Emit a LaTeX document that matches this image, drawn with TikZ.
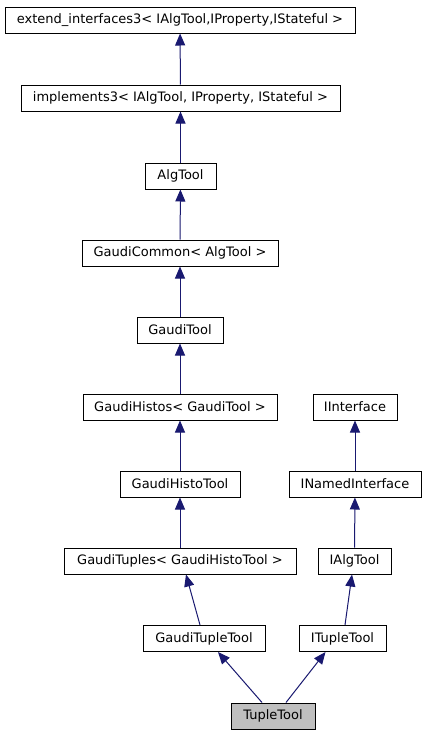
\documentclass[tikz,border=0pt]{standalone}
\usepackage{fontspec}
\setmainfont{DejaVu Sans}
\usetikzlibrary{arrows.meta}

\begin{document}
\begin{tikzpicture}[x=1pt,y=-1pt,
cls/.style={%
draw,
line width=1pt,
font=\fontsize{13}{15}\selectfont,
minimum height=26pt,
inner sep=0pt,
},
inh/.style={%
draw=midnightblue,
line width=1pt,
{Triangle[width=10pt,length=12pt,fill=midnightblue]}-,
},
]
\definecolor{midnightblue}{HTML}{191970}
\useasboundingbox[fill=white](0,0) rectangle (425,736);
%% Gaudi tool chain
\node[cls,minimum width=350pt](ext)at(180,20){extend\_interfaces3< IAlgTool,IProperty,IStateful >};
\node[cls,minimum width=319pt](impl)at(180.5,98){implements3< IAlgTool, IProperty, IStateful >};
\node[cls,minimum width=71pt](alg)at(180.5,176){AlgTool};
\node[cls,minimum width=196pt](gcom)at(180,253){GaudiCommon< AlgTool >};
\node[cls,minimum width=86pt](gtool)at(180,330){GaudiTool};
\node[cls,minimum width=194pt](ghis)at(180,407){GaudiHistos< GaudiTool >};
\node[cls,minimum width=120pt](ghtool)at(180,484){GaudiHistoTool};
\node[cls,minimum width=232pt](gtup)at(180,561){GaudiTuples< GaudiHistoTool >};
\node[cls,minimum width=122pt](gtt)at(204,638.5){GaudiTupleTool};
%% interfaces
\node[cls,minimum width=84pt](iint)at(355,407){IInterface};
\node[cls,minimum width=132pt](inamed)at(355,484){INamedInterface};
\node[cls,minimum width=73pt](ialg)at(354.5,561){IAlgTool};
\node[cls,minimum width=87pt](itt)at(342.5,638.5){ITupleTool};
%% the class
\node[cls,fill=black!25,minimum width=84pt](tt)at(273,716){TupleTool};
%% Inheritance
\draw[inh] (ext) -- (impl);
\draw[inh] (impl) -- (alg);
\draw[inh] (alg) -- (gcom);
\draw[inh] (gcom) -- (gtool);
\draw[inh] (gtool) -- (ghis);
\draw[inh] (ghis) -- (ghtool);
\draw[inh] (ghtool) -- (gtup);
\draw[inh] ([xshift=6pt]gtup.south) -- ([xshift=-4pt]gtt.north);
\draw[inh] (iint) -- (inamed);
\draw[inh] (inamed) -- (ialg);
\draw[inh] ([xshift=-2.5pt]ialg.south) -- ([xshift=2.5pt]itt.north);
\draw[inh] ([xshift=14pt]gtt.south) -- ([xshift=-11pt]tt.north);
\draw[inh] ([xshift=-17pt]itt.south) -- ([xshift=13pt]tt.north);
\end{tikzpicture}
\end{document}
